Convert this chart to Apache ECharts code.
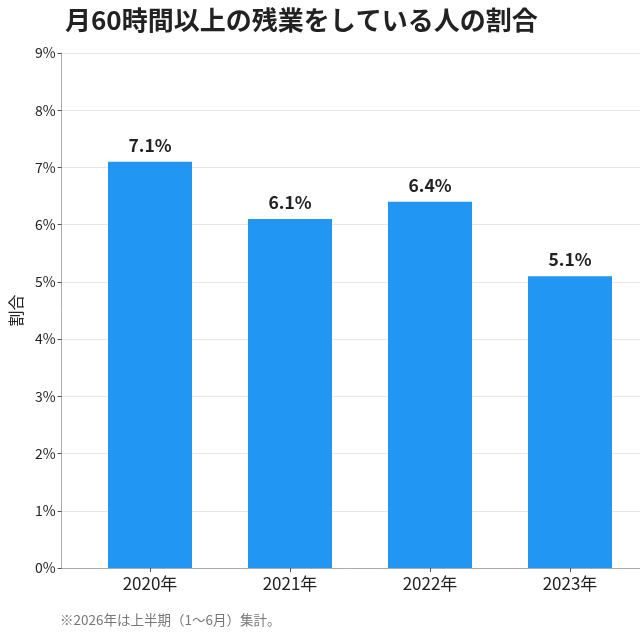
<!DOCTYPE html>
<html>
<head>
<meta charset="utf-8">
<style>
  html, body { margin: 0; padding: 0; background: #fff; }
  #chart { width: 640px; height: 640px; }
</style>
<script src="https://cdn.jsdelivr.net/npm/echarts@6/dist/echarts.min.js"></script>
</head>
<body>
<div id="chart"></div>
<script>
const years = ["2020年", "2021年", "2022年", "2023年"];
const rates = [7.1, 6.1, 6.4, 5.1];
const yTicks = [0, 1, 2, 3, 4, 5, 6, 7, 8, 9];

const FONT = '"Noto Sans CJK JP", "Noto Sans", sans-serif';
const chart = echarts.init(document.getElementById("chart"));

chart.setOption({
  animation: false,
  textStyle: { fontFamily: FONT },
  title: {
    text: "月60時間以上の残業をしている人の割合",
    left: 60, top: 2,
    textStyle: { fontSize: 26, fontWeight: "bold", color: "#222", fontFamily: FONT }
  },
  graphic: [{
    type: "text", left: 60, top: 613,
    style: { text: "※2026年は上半期（1〜6月）集計。", fill: "#777", font: "13.5px " + FONT }
  }],
  grid: [
    { left: 60, right: 0, top: 53, bottom: 72 },
    { left: 80, right: 0, top: 53, bottom: 72 }
  ],
  xAxis: [
    {
      type: "value", gridIndex: 0, min: 0, max: 1,
      axisLine: { show: true, lineStyle: { color: "#aaa" } },
      axisTick: { show: false }, axisLabel: { show: false }, splitLine: { show: false }
    },
    {
      type: "category", gridIndex: 1, data: years,
      axisLine: { show: false },
      axisTick: { show: true, alignWithLabel: true, length: 4, lineStyle: { color: "#555" } },
      axisLabel: { fontSize: 17, color: "#222", margin: 7 }
    }
  ],
  yAxis: [
    {
      type: "value", gridIndex: 0, min: yTicks[0], max: yTicks[yTicks.length - 1], interval: 1,
      name: "割合", nameLocation: "middle", nameGap: 37, nameRotate: 90,
      nameTextStyle: { fontSize: 16, color: "#222" },
      axisLine: { show: true, lineStyle: { color: "#aaa" } },
      axisTick: { show: true, length: 4, lineStyle: { color: "#555" } },
      axisLabel: { formatter: (v) => v + "%", fontSize: 14, color: "#222", margin: 6 },
      splitLine: { lineStyle: { color: "#e6e6e6" } }
    },
    {
      type: "value", gridIndex: 1, min: yTicks[0], max: yTicks[yTicks.length - 1], interval: 1,
      show: false
    }
  ],
  series: [{
    type: "bar", xAxisIndex: 1, yAxisIndex: 1,
    data: rates, barWidth: "60%",
    itemStyle: { color: "#2196F3" },
    label: {
      show: true, position: "top", distance: 8,
      formatter: (p) => p.value.toFixed(1) + "%",
      fontSize: 17.5, fontWeight: "bold", color: "#222"
    }
  }]
});
</script>
</body>
</html>
